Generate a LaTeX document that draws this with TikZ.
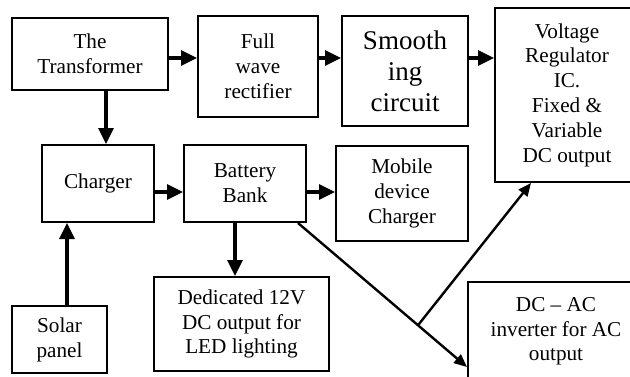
\documentclass[tikz,border=0pt]{standalone}
\usepackage{fontspec}
\setmainfont{Liberation Serif}
\usetikzlibrary{arrows.meta, calc}

\begin{document}
\begin{tikzpicture}[x=0.5pt, y=-0.5pt,
        every node/.style={draw, line width=1pt, align=center, inner sep=0pt,
            font=\fontsize{10.6}{12.4}\selectfont},
        arr/.style={line width=1.6pt, -{Triangle[length=8pt, width=7.5pt]}},
        diag/.style={line width=1.2pt, -{Triangle[length=6.5pt, width=5.5pt]}}]
        \clip (0,0) rectangle (630,376);
        \useasboundingbox (0,0) rectangle (630,376);

        \node[minimum width=78pt, minimum height=36pt] (trans) at (90,54) {The\\Transformer};
        \node[minimum width=60pt, minimum height=50.5pt] (rect) at (258,66.5) {Full\\wave\\rectifier};
        \node[minimum width=63pt, minimum height=55pt, font=\fontsize{13.5}{15.5}\selectfont] (smooth) at (405,71) {Smooth\\ing\\circuit};
        \node[minimum width=72pt, minimum height=87pt] (volt) at (567,95) {Voltage\\Regulator\\IC.\\Fixed \&\\Variable\\DC output};

        \node[minimum width=56pt, minimum height=38.5pt] (charger) at (98,183.5) {Charger};
        \node[minimum width=61pt, minimum height=38.5pt] (bank) at (245,183.5) {Battery\\Bank};
        \node[minimum width=66pt, minimum height=47.5pt] (mobile) at (402,193.5) {Mobile\\device\\Charger};

        \node[minimum width=47.5pt, minimum height=33.5pt] (solar) at (59.5,339.5) {Solar\\panel};
        \node[minimum width=87.5pt, minimum height=47pt] (led) at (241.5,324) {Dedicated 12V\\DC output for\\LED lighting};
        \node[minimum width=88pt, minimum height=54pt] (inv) at (556,336) {DC -- AC\\inverter for AC\\output\rule[-7pt]{0pt}{0pt}};

        % rows and columns of the arrows
        \coordinate (row1) at (0,58);
        \coordinate (row2) at (0,192);
        \coordinate (col0) at (67,0);
        \coordinate (col1) at (106,0);
        \coordinate (col2) at (235,0);

        \draw[arr] (trans.east |- row1) -- (rect.west |- row1);
        \draw[arr] (rect.east |- row1) -- (smooth.west |- row1);
        \draw[arr] (smooth.east |- row1) -- (volt.west |- row1);
        \draw[arr] (trans.south -| col1) -- (charger.north -| col1);
        \draw[arr] (charger.east |- row2) -- (bank.west |- row2);
        \draw[arr] (bank.east |- row2) -- (mobile.west |- row2);
        \draw[arr] (solar.north -| col0) -- (charger.south -| col0);
        \draw[arr] (bank.south -| col2) -- (led.north -| col2);

        \draw[diag] ([xshift=-4.5pt]bank.south east) -- coordinate[pos=0.71] (split) ([yshift=12pt]inv.south west);
        \draw[diag] (split) -- ([xshift=18.5pt]volt.south west);
    \end{tikzpicture}
\end{document}
